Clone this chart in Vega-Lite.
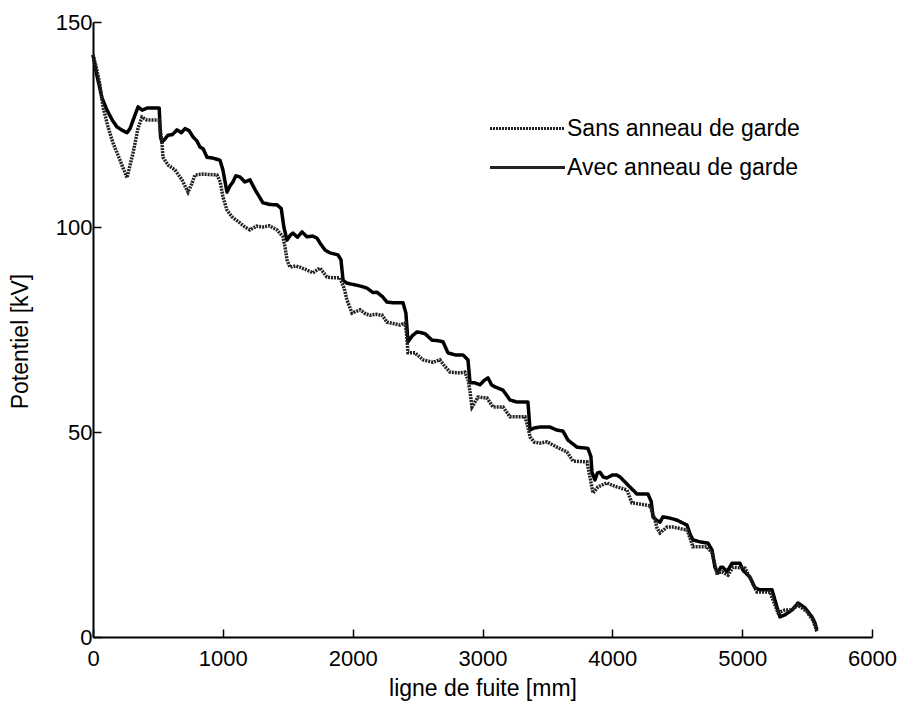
{
  "$schema": "https://vega.github.io/schema/vega-lite/v6.json",
  "autosize": {"type": "none"},
  "padding": {"left": 93, "top": 22, "right": 29, "bottom": 67},
  "width": 779,
  "height": 615,
  "config": {
    "view": {"stroke": null},
    "font": "Liberation Sans",
    "axis": {"grid": false, "domainColor": "black", "domainWidth": 2, "tickColor": "black", "tickWidth": 1.5, "labelColor": "black", "titleColor": "black", "labelFont": "Liberation Sans", "titleFont": "Liberation Sans", "labelFontSize": 22, "titleFontSize": 23, "titleFontWeight": "normal", "format": "d"}
  },
  "datasets": {
    "avec": [
      {"x":0,"y":142},{"x":30,"y":137},{"x":69,"y":131.5},{"x":108,"y":128.5},{"x":150,"y":126},{"x":185,"y":124.4},{"x":230,"y":123.5},{"x":262,"y":123},{"x":285,"y":124},{"x":320,"y":127},{"x":347,"y":129.3},{"x":380,"y":128.5},{"x":416,"y":129},{"x":460,"y":129},{"x":510,"y":129},{"x":520,"y":122},{"x":531,"y":120.7},{"x":555,"y":121.5},{"x":578,"y":122.4},{"x":610,"y":122.5},{"x":647,"y":123.7},{"x":680,"y":123},{"x":709,"y":124},{"x":740,"y":123.5},{"x":770,"y":122},{"x":800,"y":121},{"x":824,"y":119.5},{"x":850,"y":119},{"x":878,"y":117},{"x":924,"y":116.8},{"x":978,"y":116.3},{"x":1000,"y":114},{"x":1032,"y":108.5},{"x":1055,"y":110},{"x":1078,"y":111},{"x":1100,"y":112.5},{"x":1132,"y":112.2},{"x":1170,"y":111},{"x":1209,"y":111.5},{"x":1250,"y":109},{"x":1309,"y":105.9},{"x":1360,"y":105.5},{"x":1417,"y":105.4},{"x":1450,"y":104.5},{"x":1470,"y":100},{"x":1494,"y":96.8},{"x":1520,"y":98},{"x":1540,"y":98.5},{"x":1575,"y":97.5},{"x":1610,"y":98.8},{"x":1648,"y":97.6},{"x":1690,"y":97.8},{"x":1725,"y":97.3},{"x":1750,"y":96},{"x":1787,"y":94.4},{"x":1825,"y":93.7},{"x":1887,"y":93.2},{"x":1910,"y":92},{"x":1926,"y":87},{"x":1956,"y":86.3},{"x":2000,"y":86},{"x":2033,"y":85.8},{"x":2070,"y":85.5},{"x":2110,"y":85.1},{"x":2157,"y":84},{"x":2187,"y":84.1},{"x":2230,"y":83},{"x":2264,"y":81.7},{"x":2320,"y":81.5},{"x":2388,"y":81.5},{"x":2410,"y":79},{"x":2426,"y":72},{"x":2460,"y":73.5},{"x":2495,"y":74.4},{"x":2530,"y":74.2},{"x":2557,"y":74},{"x":2611,"y":72.4},{"x":2650,"y":72.3},{"x":2696,"y":72},{"x":2734,"y":69.3},{"x":2790,"y":68.8},{"x":2850,"y":68.8},{"x":2888,"y":67.6},{"x":2904,"y":62},{"x":2940,"y":62},{"x":2981,"y":61.5},{"x":3010,"y":62.5},{"x":3042,"y":63.2},{"x":3070,"y":61.5},{"x":3096,"y":61},{"x":3158,"y":60.2},{"x":3212,"y":57.8},{"x":3266,"y":57.3},{"x":3350,"y":57.3},{"x":3366,"y":50.5},{"x":3400,"y":51},{"x":3443,"y":51.2},{"x":3520,"y":51.2},{"x":3570,"y":50.5},{"x":3620,"y":50.2},{"x":3659,"y":48},{"x":3700,"y":47},{"x":3728,"y":46.3},{"x":3812,"y":46},{"x":3835,"y":44},{"x":3843,"y":40.2},{"x":3866,"y":38.3},{"x":3885,"y":40},{"x":3905,"y":40.2},{"x":3930,"y":39},{"x":3958,"y":38.8},{"x":4000,"y":39.5},{"x":4035,"y":39.5},{"x":4060,"y":39},{"x":4082,"y":38.3},{"x":4135,"y":36.6},{"x":4189,"y":34.9},{"x":4274,"y":34.9},{"x":4300,"y":33},{"x":4313,"y":29.3},{"x":4340,"y":28.5},{"x":4367,"y":28},{"x":4390,"y":29.3},{"x":4444,"y":29},{"x":4498,"y":28.5},{"x":4575,"y":27.3},{"x":4600,"y":25},{"x":4621,"y":23.7},{"x":4675,"y":23.2},{"x":4737,"y":22.9},{"x":4768,"y":21.2},{"x":4790,"y":17},{"x":4813,"y":15.6},{"x":4835,"y":17},{"x":4852,"y":17},{"x":4883,"y":15.9},{"x":4922,"y":18},{"x":4983,"y":18},{"x":5006,"y":16.3},{"x":5060,"y":14.6},{"x":5099,"y":12},{"x":5137,"y":11.5},{"x":5230,"y":11.5},{"x":5268,"y":7.3},{"x":5291,"y":4.9},{"x":5330,"y":5.4},{"x":5384,"y":6.6},{"x":5430,"y":8.3},{"x":5484,"y":7.1},{"x":5538,"y":4.9},{"x":5560,"y":3.5},{"x":5576,"y":1.7}
    ],
    "sans": [
      {"x":0,"y":142},{"x":25,"y":139},{"x":54,"y":134.6},{"x":77,"y":129.3},{"x":116,"y":124.4},{"x":154,"y":120.5},{"x":208,"y":116.3},{"x":262,"y":112},{"x":308,"y":118},{"x":347,"y":124.1},{"x":377,"y":126.8},{"x":416,"y":126.1},{"x":460,"y":126.1},{"x":510,"y":126.1},{"x":525,"y":122},{"x":531,"y":120.5},{"x":539,"y":117},{"x":578,"y":115.1},{"x":632,"y":113.9},{"x":685,"y":111.5},{"x":732,"y":108.5},{"x":760,"y":110.5},{"x":786,"y":112.7},{"x":847,"y":112.9},{"x":900,"y":112.8},{"x":955,"y":112.7},{"x":980,"y":111},{"x":1001,"y":107.3},{"x":1032,"y":104.1},{"x":1070,"y":102.5},{"x":1132,"y":101},{"x":1170,"y":100},{"x":1209,"y":99.3},{"x":1260,"y":100.2},{"x":1309,"y":100},{"x":1360,"y":100.3},{"x":1417,"y":99.3},{"x":1463,"y":97.6},{"x":1480,"y":95},{"x":1494,"y":92},{"x":1517,"y":90.2},{"x":1560,"y":90.5},{"x":1594,"y":90.2},{"x":1648,"y":89.5},{"x":1694,"y":88.8},{"x":1748,"y":90},{"x":1802,"y":87.8},{"x":1848,"y":87.6},{"x":1902,"y":87.6},{"x":1935,"y":85},{"x":1956,"y":82.2},{"x":1995,"y":79},{"x":2057,"y":79.8},{"x":2100,"y":78.8},{"x":2134,"y":78.5},{"x":2180,"y":78.7},{"x":2226,"y":78.5},{"x":2264,"y":76.8},{"x":2320,"y":76.4},{"x":2365,"y":76.1},{"x":2403,"y":76.6},{"x":2415,"y":74},{"x":2426,"y":69.3},{"x":2480,"y":69.3},{"x":2542,"y":67.6},{"x":2619,"y":67},{"x":2672,"y":67.6},{"x":2710,"y":66},{"x":2750,"y":64.6},{"x":2827,"y":64.4},{"x":2865,"y":64.6},{"x":2890,"y":62.5},{"x":2904,"y":59.8},{"x":2919,"y":56.1},{"x":2965,"y":58.5},{"x":3034,"y":58.3},{"x":3081,"y":56.1},{"x":3158,"y":56.1},{"x":3212,"y":53.7},{"x":3270,"y":53.7},{"x":3327,"y":53.7},{"x":3350,"y":51.2},{"x":3366,"y":48.8},{"x":3400,"y":47.5},{"x":3443,"y":47.3},{"x":3497,"y":47.6},{"x":3574,"y":46.3},{"x":3651,"y":45.1},{"x":3697,"y":42.9},{"x":3760,"y":42.8},{"x":3805,"y":42.7},{"x":3828,"y":39},{"x":3851,"y":35.1},{"x":3889,"y":36.6},{"x":3958,"y":37.6},{"x":4000,"y":37},{"x":4035,"y":36.6},{"x":4112,"y":35.9},{"x":4151,"y":32.7},{"x":4220,"y":32.4},{"x":4290,"y":32},{"x":4329,"y":28.5},{"x":4345,"y":26.5},{"x":4367,"y":25.4},{"x":4421,"y":26.8},{"x":4467,"y":26.8},{"x":4575,"y":26.1},{"x":4600,"y":24},{"x":4621,"y":22},{"x":4729,"y":22},{"x":4768,"y":20.5},{"x":4806,"y":15.6},{"x":4845,"y":15.9},{"x":4891,"y":15.1},{"x":4929,"y":17},{"x":5022,"y":16.8},{"x":5060,"y":14.4},{"x":5114,"y":11},{"x":5214,"y":11},{"x":5250,"y":8},{"x":5276,"y":5.9},{"x":5330,"y":6.6},{"x":5384,"y":6.6},{"x":5430,"y":7.8},{"x":5499,"y":6.1},{"x":5545,"y":4.1},{"x":5576,"y":1.2}
    ]
  },
  "encoding": {
    "x": {"field": "x", "type": "quantitative", "scale": {"domain": [0, 6000], "nice": false}, "axis": {"values": [0,1000,2000,3000,4000,5000,6000], "title": "ligne de fuite [mm]", "tickSize": -8, "labelPadding": 19, "labelFlush": false, "titleY": 51, "titleBaseline": "middle"}},
    "y": {"field": "y", "type": "quantitative", "scale": {"domain": [0, 150], "nice": false}, "axis": {"values": [0,50,100,150], "title": "Potentiel [kV]", "tickSize": -8, "labelPadding": 9, "labelFlush": false, "titleX": -73, "titleY": 319, "titleBaseline": "middle"}}
  },
  "layer": [
    {
      "data": {"name": "avec"},
      "transform": [{"calculate": "'Avec anneau de garde'", "as": "serie"}],
      "mark": {"type": "line", "color": "black", "strokeWidth": 3.5, "strokeJoin": "round"},
      "encoding": {
        "strokeDash": {"field": "serie", "type": "nominal", "scale": {"domain": ["Sans anneau de garde", "Avec anneau de garde"], "range": [[2, 1], [1, 0]]}, "legend": {"title": null, "orient": "none", "legendX": 423, "legendY": 95, "symbolType": "M-5,0L5,0", "symbolSize": 225, "symbolStrokeWidth": 3, "symbolStrokeColor": "black", "labelFontSize": 23, "labelFont": "Liberation Sans", "labelColor": "black", "labelOffset": 28, "labelLimit": 0, "rowPadding": 15, "padding": 0}}
      }
    },
    {
      "data": {"name": "sans"},
      "transform": [{"calculate": "'Sans anneau de garde'", "as": "serie"}],
      "mark": {"type": "line", "color": "#222", "strokeWidth": 3.5},
      "encoding": {
        "strokeDash": {"field": "serie", "type": "nominal"}
      }
    }
  ]
}
